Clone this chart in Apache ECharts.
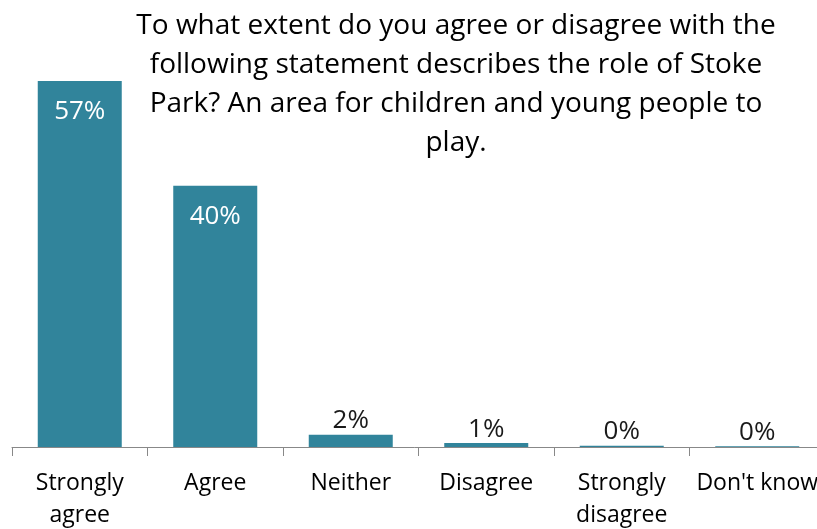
<!DOCTYPE html>
<html><head><meta charset="utf-8">
<script src="https://cdn.jsdelivr.net/npm/echarts@6/dist/echarts.min.js"></script>
<style>html,body{margin:0;padding:0;background:#fff}#c{width:817px;height:529px}</style>
</head><body><div id="c"></div>
<script>
const categories = ['Strongly\nagree', 'Agree', 'Neither', 'Disagree', 'Strongly\ndisagree', "Don't know"];
const values = [56.6, 40.4, 1.9, 0.6, 0.2, 0.1];
const titleText = 'To what extent do you agree or disagree with the\nfollowing statement describes the role of Stoke\nPark? An area for children and young people to\nplay.';

const FONT = 'Open Sans';
const chart = echarts.init(document.getElementById('c'), null, {renderer: 'canvas'});
const seriesData = values.map(v => {
  const inside = v > 10;
  return {
    value: v,
    label: {
      show: true,
      position: inside ? 'insideTop' : 'top',
      distance: inside ? 18 : 1,
      color: inside ? '#ffffff' : '#1a1a1a',
      fontSize: 26,
      fontFamily: FONT,
      formatter: p => Math.round(p.value) + '%'
    }
  };
});
chart.setOption({
  animation: false,
  backgroundColor: '#ffffff',
  title: {
    text: titleText,
    left: 451, top: 2, textAlign: 'center',
    textStyle: {fontFamily: FONT, fontSize: 28, fontWeight: 'normal', color: '#000', lineHeight: 39}
  },
  grid: {left: 12, right: -8, top: 59, bottom: 82, containLabel: false, outerBoundsMode: 'none'},
  xAxis: {
    type: 'category', data: categories,
    axisLine: {lineStyle: {color: '#888888', width: 1}},
    axisTick: {show: true, length: 9, alignWithLabel: false, lineStyle: {color: '#888888'}},
    axisLabel: {interval: 0, margin: 20, fontSize: 23, fontFamily: FONT, color: '#000', lineHeight: 32}
  },
  yAxis: {type: 'value', min: 0, max: 60, show: false, splitLine: {show: false}},
  series: [{
    type: 'bar', data: seriesData, barWidth: 84,
    itemStyle: {color: '#31849B'}
  }]
});
</script></body></html>
